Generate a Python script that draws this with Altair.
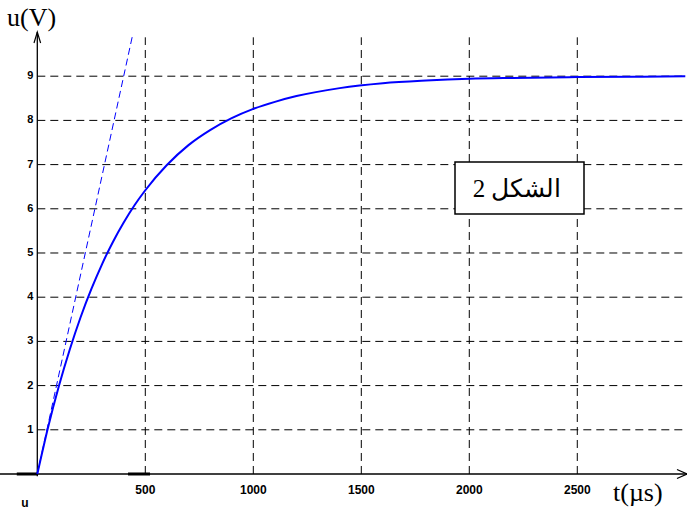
import altair as alt
import pandas as pd

# ---- data ----
t_us = [0, 50, 100, 150, 200, 250, 300, 350, 400, 450, 500, 600, 700, 800, 900,
        1000, 1100, 1200, 1400, 1600, 1800, 2000, 2200, 2500, 2800, 3000]
u_v = [0, 1.06, 1.99, 2.81, 3.54, 4.18, 4.75, 5.25, 5.69, 6.08, 6.42, 6.99, 7.44,
       7.78, 8.05, 8.26, 8.42, 8.55, 8.73, 8.84, 8.90, 8.94, 8.96, 8.98, 8.99, 9.0]
tangent_t = [0, 443]
tangent_u = [0, 9.97]
x_ticks = [500, 1000, 1500, 2000, 2500]
x_labels = ["500", "1000", "1500", "2000", "2500"]
y_ticks = [1, 2, 3, 4, 5, 6, 7, 8, 9]
y_labels = ["1", "2", "3", "4", "5", "6", "7", "8", "9"]

X_MIN, X_MAX = -172.7, 3007.9
Y_MIN, Y_MAX = -0.86, 10.724
GRID_TOP = 9.88
AXIS_TOP = 10.0

xs = alt.Scale(domain=[X_MIN, X_MAX], nice=False, zero=False)
ys = alt.Scale(domain=[Y_MIN, Y_MAX], nice=False, zero=False)

curve_df = pd.DataFrame({"t": t_us, "u": u_v})
tan_df = pd.DataFrame({"t": tangent_t, "u": tangent_u})
gv_df = pd.DataFrame({"t": x_ticks, "lo": [0] * len(x_ticks), "hi": [GRID_TOP] * len(x_ticks), "label": x_labels})
gh_df = pd.DataFrame({"u": y_ticks, "lo": [0] * len(y_ticks), "hi": [X_MAX] * len(y_ticks), "label": y_labels, "t": [0] * len(y_ticks)})

X = lambda f: alt.X(f, type="quantitative", scale=xs, axis=None)
Y = lambda f: alt.Y(f, type="quantitative", scale=ys, axis=None)

grid_v = alt.Chart(gv_df).mark_rule(color="black", strokeWidth=1, strokeDash=[8, 5]).encode(
    x=X("t"), y=Y("lo"), y2="hi")
grid_h = alt.Chart(gh_df).mark_rule(color="black", strokeWidth=1, strokeDash=[8, 5]).encode(
    y=Y("u"), x=X("lo"), x2="hi")

# axes
xaxis_df = pd.DataFrame({"a": [X_MIN], "b": [X_MAX], "u": [0]})
x_axis = alt.Chart(xaxis_df).mark_rule(color="black", strokeWidth=1.3).encode(
    x=X("a"), x2="b", y=Y("u"))
thick_df = pd.DataFrame({"a": [-95, 420], "b": [0, 522], "u": [0, 0]})
thick = alt.Chart(thick_df).mark_rule(color="black", strokeWidth=3).encode(
    x=X("a"), x2="b", y=Y("u"))
yaxis_df = pd.DataFrame({"t": [0], "a": [-0.05], "b": [AXIS_TOP]})
y_axis = alt.Chart(yaxis_df).mark_rule(color="black", strokeWidth=1.3).encode(
    x=X("t"), y=Y("a"), y2="b")
yarrow = alt.Chart(pd.DataFrame({"t": [0], "u": [9.875]})).mark_point(
    shape="M-0.6,1L0,-1L0.6,1", size=121, filled=False, color="black", strokeWidth=1.2, opacity=1
).encode(x=X("t"), y=Y("u"))
xarrow = alt.Chart(pd.DataFrame({"t": [2984.7], "u": [0]})).mark_point(
    shape="M-1,-0.9L1,0L-1,0.9", size=100, filled=False, color="black", strokeWidth=1.2, opacity=1
).encode(x=X("t"), y=Y("u"))

# curves
curve = alt.Chart(curve_df).mark_line(color="#0000ff", strokeWidth=2, interpolate="monotone").encode(
    x=X("t"), y=Y("u"))
tangent = alt.Chart(tan_df).mark_line(color="#0000ff", strokeWidth=1, strokeDash=[7, 4]).encode(
    x=X("t"), y=Y("u"))

# tick labels
xlab = alt.Chart(gv_df).mark_text(font="Liberation Sans", fontWeight="bold", fontSize=12,
                                  baseline="middle", align="center", dy=16, color="black").encode(
    x=X("t"), y=Y("lo"), text="label")
ylab = alt.Chart(gh_df).mark_text(font="Liberation Sans", fontWeight="bold", fontSize=11,
                                  baseline="middle", align="right", dx=-4, color="black").encode(
    x=X("t"), y=Y("u"), text="label")

# annotations
ann = pd.DataFrame({"d": [0]})
title_u = alt.Chart(ann).mark_text(text="u(V)", font="Liberation Serif", fontSize=26, align="left",
                                   baseline="alphabetic", color="black").encode(
    x=alt.value(7), y=alt.value(26))
title_t = alt.Chart(ann).mark_text(text="t(µs)", font="Liberation Serif", fontSize=26, align="left",
                                   baseline="alphabetic", color="black").encode(
    x=alt.value(613), y=alt.value(501))
small_u = alt.Chart(ann).mark_text(text="u", font="Liberation Sans", fontWeight="bold", fontSize=12,
                                   align="center", baseline="middle", color="black").encode(
    x=alt.value(25), y=alt.value(503))
box = alt.Chart(ann).mark_rect(fill="white", stroke="black", strokeWidth=1.5).encode(
    x=alt.value(455), x2=alt.value(584), y=alt.value(162), y2=alt.value(214))
box_text = alt.Chart(ann).mark_text(text="الشكل 2", font="Liberation Serif", fontSize=25,
                                    align="center", baseline="middle", color="black").encode(
    x=alt.value(517), y=alt.value(189))

chart = alt.layer(
    grid_v, grid_h, box, thick, x_axis, y_axis, yarrow, xarrow, tangent, curve,
    xlab, ylab, title_u, title_t, small_u, box_text
).properties(
    width=687, height=512, padding=0, autosize=alt.AutoSizeParams(type="none"),
    background="white"
).configure_view(stroke=None)

chart.save("out.html", embed_options={"renderer": "svg", "actions": False})
